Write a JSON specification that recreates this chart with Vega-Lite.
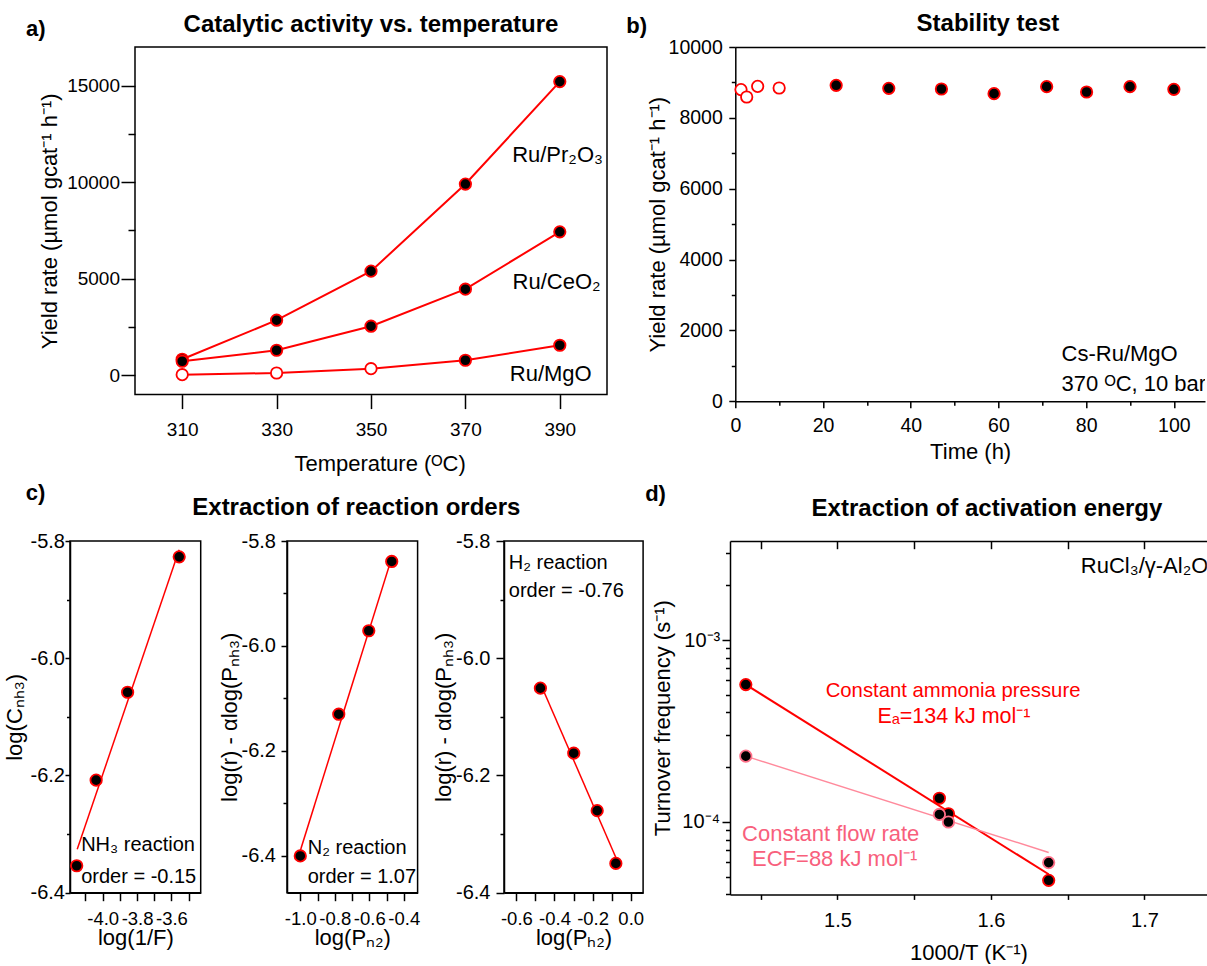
{
  "$schema": "https://vega.github.io/schema/vega-lite/v6.json",
  "background": "white",
  "padding": {"left": 2, "top": 11, "right": 0, "bottom": 0},
  "config": {
    "font": "Liberation Sans",
    "view": {"stroke": "black", "strokeWidth": 1.5},
    "axis": {
      "domainColor": "black", "domainWidth": 1.5, "tickColor": "black", "tickWidth": 1.5,
      "labelColor": "black", "titleColor": "black", "labelFontSize": 20, "titleFontSize": 22,
      "titleFontWeight": "normal", "grid": false, "labelFlush": false, "labelOverlap": false
    },
    "text": {"color": "black"}
  },
  "datasets": {
    "a": [
      {"catalyst": "Ru/Pr2O3", "T": 310, "rate": 830, "marker": "filled"},
      {"catalyst": "Ru/Pr2O3", "T": 330, "rate": 2852, "marker": "filled"},
      {"catalyst": "Ru/Pr2O3", "T": 350, "rate": 5392, "marker": "filled"},
      {"catalyst": "Ru/Pr2O3", "T": 370, "rate": 9903, "marker": "filled"},
      {"catalyst": "Ru/Pr2O3", "T": 390, "rate": 15207, "marker": "filled"},
      {"catalyst": "Ru/CeO2", "T": 310, "rate": 726, "marker": "filled"},
      {"catalyst": "Ru/CeO2", "T": 330, "rate": 1296, "marker": "filled"},
      {"catalyst": "Ru/CeO2", "T": 350, "rate": 2541, "marker": "filled"},
      {"catalyst": "Ru/CeO2", "T": 370, "rate": 4459, "marker": "filled"},
      {"catalyst": "Ru/CeO2", "T": 390, "rate": 7430, "marker": "filled"},
      {"catalyst": "Ru/MgO", "T": 310, "rate": 31, "marker": "open"},
      {"catalyst": "Ru/MgO", "T": 330, "rate": 119, "marker": "open"},
      {"catalyst": "Ru/MgO", "T": 350, "rate": 342, "marker": "open"},
      {"catalyst": "Ru/MgO", "T": 370, "rate": 778, "marker": "filled"},
      {"catalyst": "Ru/MgO", "T": 390, "rate": 1555, "marker": "filled"}
    ],
    "b": [
      {"t": 1.3, "rate": 8798, "marker": "open"},
      {"t": 2.6, "rate": 8589, "marker": "open"},
      {"t": 5.1, "rate": 8890, "marker": "open"},
      {"t": 10.0, "rate": 8843, "marker": "open"},
      {"t": 23, "rate": 8919, "marker": "filled"},
      {"t": 35, "rate": 8834, "marker": "filled"},
      {"t": 47, "rate": 8815, "marker": "filled"},
      {"t": 59, "rate": 8684, "marker": "filled"},
      {"t": 71, "rate": 8881, "marker": "filled"},
      {"t": 80.1, "rate": 8730, "marker": "filled"},
      {"t": 90, "rate": 8881, "marker": "filled"},
      {"t": 100, "rate": 8806, "marker": "filled"}
    ],
    "c1": [
      {"x": -4.151, "y": -6.354}, {"x": -4.038, "y": -6.208},
      {"x": -3.855, "y": -6.058}, {"x": -3.555, "y": -5.827}
    ],
    "c1fit": [{"x": -4.148, "y": -6.326}, {"x": -3.555, "y": -5.815}],
    "c2": [
      {"x": -1.0, "y": -6.40}, {"x": -0.777, "y": -6.130},
      {"x": -0.603, "y": -5.971}, {"x": -0.470, "y": -5.839}
    ],
    "c2fit": [{"x": -1.0, "y": -6.39}, {"x": -0.47, "y": -5.832}],
    "c3": [
      {"x": -0.474, "y": -6.051}, {"x": -0.299, "y": -6.162},
      {"x": -0.176, "y": -6.260}, {"x": -0.078, "y": -6.350}
    ],
    "c3fit": [{"x": -0.474, "y": -6.043}, {"x": -0.078, "y": -6.340}],
    "d": [
      {"series": "ammonia", "x": 1.4403, "tof": 0.000569},
      {"series": "ammonia", "x": 1.5664, "tof": 0.000135},
      {"series": "ammonia", "x": 1.5723, "tof": 0.000111},
      {"series": "ammonia", "x": 1.6376, "tof": 0.0000478},
      {"series": "flow", "x": 1.4403, "tof": 0.00023},
      {"series": "flow", "x": 1.5664, "tof": 0.00011},
      {"series": "flow", "x": 1.5723, "tof": 0.0001},
      {"series": "flow", "x": 1.6376, "tof": 0.0000598}
    ],
    "dfit": [
      {"series": "ammonia", "x": 1.4403, "tof": 0.000569},
      {"series": "ammonia", "x": 1.6376, "tof": 0.0000516},
      {"series": "flow", "x": 1.4403, "tof": 0.00023},
      {"series": "flow", "x": 1.6376, "tof": 0.000068}
    ]
  },
  "spacing": 6,
  "vconcat": [
    {
      "hconcat": [
        {
          "width": 537, "height": 347.6,
          "view": {"stroke": null},
          "resolve": {"axis": {"x": "independent", "y": "independent"}},
          "layer": [
            {
              "data": {"values": [{"x": 300, "x2": 400, "y": -1000, "y2": 17000}]},
              "mark": {"type": "rect", "fill": "transparent", "stroke": "black", "strokeWidth": 1.5},
              "encoding": {
                "x": {"field": "x", "type": "quantitative", "axis": null}, "x2": {"field": "x2"},
                "y": {"field": "y", "type": "quantitative", "axis": null}, "y2": {"field": "y2"}
              }
            },
            {
              "data": {"name": "a"},
              "mark": {"type": "line", "color": "#ff0000", "strokeWidth": 2},
              "encoding": {
                "x": {"field": "T", "type": "quantitative",
                  "scale": {"domain": [286.229, 400], "nice": false, "zero": false},
                  "axis": {"orient": "bottom", "domain": false, "values": [310, 330, 350, 370, 390], "labelFontSize": 19,
                    "tickSize": 14, "labelPadding": 12, "title": "Temperature (ᴼC)", "titlePadding": 14, "titleX": 309.6}},
                "y": {"field": "rate", "type": "quantitative",
                  "scale": {"domain": [-1000, 17000], "nice": false, "zero": false},
                  "axis": {"offset": -65, "domain": false, "values": [0, 2500, 5000, 7500, 10000, 12500, 15000], "format": "d", "labelFontSize": 19,
                    "labelExpr": "datum.value % 5000 === 0 ? datum.label : ''",
                    "tickSize": {"condition": {"test": "datum.value % 5000 === 0", "value": 14}, "value": 7},
                    "labelPadding": 1.5, "title": "Yield rate (µmol gcat⁻¹ h⁻¹)", "titlePadding": 5}},
                "detail": {"field": "catalyst"}
              }
            },
            {
              "data": {"name": "a"},
              "mark": {"type": "point", "shape": "circle", "filled": true, "stroke": "#ff0000", "strokeWidth": 1.8, "size": 130, "opacity": 1},
              "encoding": {
                "x": {"field": "T", "type": "quantitative", "axis": null},
                "y": {"field": "rate", "type": "quantitative", "axis": null},
                "fill": {"field": "marker", "type": "nominal", "scale": {"domain": ["filled", "open"], "range": ["black", "white"]}, "legend": null}
              }
            },
            {
              "data": {"values": [{"label": "Catalytic activity vs. temperature", "x": 350, "y": 18160}]},
              "mark": {"type": "text", "fontSize": 24, "fontWeight": "bold", "align": "center", "baseline": "middle"},
              "encoding": {"x": {"field": "x", "type": "quantitative", "axis": null}, "y": {"field": "y", "type": "quantitative", "axis": null}, "text": {"field": "label"}}
            },
            {
              "data": {"values": [{"label": "a)", "x": 281.06, "y": 17953}]},
              "mark": {"type": "text", "fontSize": 22, "fontWeight": "bold", "align": "right", "baseline": "middle"},
              "encoding": {"x": {"field": "x", "type": "quantitative", "axis": null}, "y": {"field": "y", "type": "quantitative", "axis": null}, "text": {"field": "label"}}
            },
            {
              "data": {"values": [
                {"label": "Ru/Pr₂O₃", "x": 379.9, "y": 11420},
                {"label": "Ru/CeO₂", "x": 380, "y": 4840},
                {"label": "Ru/MgO", "x": 379.4, "y": 70}
              ]},
              "mark": {"type": "text", "fontSize": 22, "align": "left", "baseline": "middle"},
              "encoding": {"x": {"field": "x", "type": "quantitative", "axis": null}, "y": {"field": "y", "type": "quantitative", "axis": null}, "text": {"field": "label"}}
            }
          ]
        },
        {
          "width": 469.7, "height": 354.3,
          "view": {"stroke": null},
          "resolve": {"axis": {"x": "independent", "y": "independent"}},
          "layer": [
            {
              "data": {"name": "b"},
              "mark": {"type": "point", "shape": "circle", "filled": true, "stroke": "#ff0000", "strokeWidth": 1.8, "size": 130, "opacity": 1},
              "encoding": {
                "x": {"field": "t", "type": "quantitative",
                  "scale": {"domain": [0, 107.1], "nice": false, "zero": false},
                  "axis": {"orient": "bottom", "values": [0, 10, 20, 30, 40, 50, 60, 70, 80, 90, 100], "labelFontSize": 19.5,
                    "labelExpr": "datum.value % 20 === 0 ? datum.label : ''",
                    "tickSize": {"condition": {"test": "datum.value % 20 === 0", "value": 6.5}, "value": 4},
                    "labelPadding": 9, "title": "Time (h)", "titlePadding": 6}},
                "y": {"field": "rate", "type": "quantitative",
                  "scale": {"domain": [0, 10000], "nice": false, "zero": false},
                  "axis": {"values": [0, 1000, 2000, 3000, 4000, 5000, 6000, 7000, 8000, 9000, 10000], "format": "d", "labelFontSize": 19.5,
                    "labelExpr": "datum.value % 2000 === 0 ? datum.label : ''",
                    "tickSize": {"condition": {"test": "datum.value % 2000 === 0", "value": 6.5}, "value": 4},
                    "labelPadding": 6.5, "title": "Yield rate (µmol gcat⁻¹ h⁻¹)", "titlePadding": -1}},
                "fill": {"field": "marker", "type": "nominal", "scale": {"domain": ["filled", "open"], "range": ["black", "white"]}, "legend": null}
              }
            },
            {
              "data": {"values": [{"label": "Stability test", "x": 57.6, "y": 10655}]},
              "mark": {"type": "text", "fontSize": 24, "fontWeight": "bold", "align": "center", "baseline": "middle"},
              "encoding": {
                "x": {"field": "x", "type": "quantitative", "axis": {"orient": "top", "ticks": false, "labels": false, "title": null, "domain": true}},
                "y": {"field": "y", "type": "quantitative", "axis": null}, "text": {"field": "label"}}
            },
            {
              "data": {"values": [{"label": "b)", "x": -22.5, "y": 10584}]},
              "mark": {"type": "text", "fontSize": 22, "fontWeight": "bold", "align": "center", "baseline": "middle"},
              "encoding": {"x": {"field": "x", "type": "quantitative", "axis": null}, "y": {"field": "y", "type": "quantitative", "axis": null}, "text": {"field": "label"}}
            },
            {
              "data": {"values": [
                {"label": "Cs-Ru/MgO", "x": 74.4, "y": 1335},
                {"label": "370 ᴼC, 10 bar", "x": 74.4, "y": 488}
              ]},
              "mark": {"type": "text", "fontSize": 22, "align": "left", "baseline": "middle", "clip": true},
              "encoding": {"x": {"field": "x", "type": "quantitative", "axis": null}, "y": {"field": "y", "type": "quantitative", "axis": null}, "text": {"field": "label"}}
            }
          ]
        }
      ],
      "spacing": 128.3,
      "bounds": "flush"
    },
    {
      "hconcat": [
        {
          "width": 130.7, "height": 351.7,
          "resolve": {"axis": {"x": "independent", "y": "independent"}},
          "layer": [
            {
              "data": {"name": "c1fit"},
              "mark": {"type": "line", "color": "#ff0000", "strokeWidth": 1.5},
              "encoding": {
                "x": {"field": "x", "type": "quantitative",
                  "scale": {"domain": [-4.19, -3.43], "nice": false, "zero": false},
                  "axis": {"values": [-4.1, -4.0, -3.9, -3.8, -3.7, -3.6, -3.5], "labelFontSize": 18.5,
                    "labelExpr": "abs(round(datum.value*10)) % 2 === 0 ? (datum.value < 0 ? '-' : '') + format(abs(datum.value), '.1f') : ''",
                    "tickSize": 8, "labelPadding": 8.4, "title": "log(1/F)", "titlePadding": 0}},
                "y": {"field": "y", "type": "quantitative",
                  "scale": {"domain": [-6.4, -5.8], "nice": false, "zero": false},
                  "axis": {"values": [-6.4, -6.3, -6.2, -6.1, -6.0, -5.9, -5.8],
                    "labelExpr": "abs(round(datum.value*10)) % 2 === 0 ? (datum.value < 0 ? '-' : '') + format(abs(datum.value), '.1f') : ''",
                    "tickSize": {"condition": {"test": "abs(round(datum.value*10)) % 2 === 0", "value": 5}, "value": 3.5},
                    "labelPadding": 0.5, "title": "log(Cₙₕ₃)", "titlePadding": 4}}
              }
            },
            {
              "data": {"name": "c1"},
              "mark": {"type": "point", "shape": "circle", "filled": true, "fill": "black", "stroke": "#ff0000", "strokeWidth": 1.8, "size": 130, "opacity": 1},
              "encoding": {"x": {"field": "x", "type": "quantitative", "axis": null}, "y": {"field": "y", "type": "quantitative", "axis": null}}
            },
            {
              "data": {"values": [{"label": "c)", "x": -4.391, "y": -5.718}]},
              "mark": {"type": "text", "fontSize": 22, "fontWeight": "bold", "align": "center", "baseline": "middle"},
              "encoding": {"x": {"field": "x", "type": "quantitative", "axis": null}, "y": {"field": "y", "type": "quantitative", "axis": null}, "text": {"field": "label"}}
            },
            {
              "data": {"values": [
                {"label": "NH₃ reaction", "x": -4.125, "y": -6.319},
                {"label": "order = -0.15", "x": -4.125, "y": -6.373}
              ]},
              "mark": {"type": "text", "fontSize": 20, "align": "left", "baseline": "middle"},
              "encoding": {"x": {"field": "x", "type": "quantitative", "axis": null}, "y": {"field": "y", "type": "quantitative", "axis": null}, "text": {"field": "label"}}
            }
          ]
        },
        {
          "width": 130.6, "height": 351.7,
          "resolve": {"axis": {"x": "independent", "y": "independent"}},
          "layer": [
            {
              "data": {"name": "c2fit"},
              "mark": {"type": "line", "color": "#ff0000", "strokeWidth": 1.5},
              "encoding": {
                "x": {"field": "x", "type": "quantitative",
                  "scale": {"domain": [-1.077, -0.32], "nice": false, "zero": false},
                  "axis": {"values": [-1.0, -0.9, -0.8, -0.7, -0.6, -0.5, -0.4], "labelFontSize": 18.5,
                    "labelExpr": "abs(round(datum.value*10)) % 2 === 0 ? (datum.value < 0 ? '-' : '') + format(abs(datum.value), '.1f') : ''",
                    "tickSize": 8, "labelPadding": 8.4, "title": "log(Pₙ₂)", "titlePadding": 0}},
                "y": {"field": "y", "type": "quantitative",
                  "scale": {"domain": [-6.47, -5.8], "nice": false, "zero": false},
                  "axis": {"values": [-6.4, -6.3, -6.2, -6.1, -6.0, -5.9, -5.8],
                    "labelExpr": "abs(round(datum.value*10)) % 2 === 0 ? (datum.value < 0 ? '-' : '') + format(abs(datum.value), '.1f') : ''",
                    "tickSize": {"condition": {"test": "abs(round(datum.value*10)) % 2 === 0", "value": 6}, "value": 4},
                    "labelPadding": 5.5, "title": "log(r) - αlog(Pₙₕ₃)", "titlePadding": 0}}
              }
            },
            {
              "data": {"name": "c2"},
              "mark": {"type": "point", "shape": "circle", "filled": true, "fill": "black", "stroke": "#ff0000", "strokeWidth": 1.8, "size": 130, "opacity": 1},
              "encoding": {"x": {"field": "x", "type": "quantitative", "axis": null}, "y": {"field": "y", "type": "quantitative", "axis": null}}
            },
            {
              "data": {"values": [{"label": "Extraction of reaction orders", "x": -0.6753, "y": -5.7377}]},
              "mark": {"type": "text", "fontSize": 24, "fontWeight": "bold", "align": "center", "baseline": "middle"},
              "encoding": {"x": {"field": "x", "type": "quantitative", "axis": null}, "y": {"field": "y", "type": "quantitative", "axis": null}, "text": {"field": "label"}}
            },
            {
              "data": {"values": [
                {"label": "N₂ reaction", "x": -0.957, "y": -6.384},
                {"label": "order = 1.07", "x": -0.957, "y": -6.441}
              ]},
              "mark": {"type": "text", "fontSize": 20, "align": "left", "baseline": "middle"},
              "encoding": {"x": {"field": "x", "type": "quantitative", "axis": null}, "y": {"field": "y", "type": "quantitative", "axis": null}, "text": {"field": "label"}}
            }
          ]
        },
        {
          "width": 139.1, "height": 351.7,
          "resolve": {"axis": {"x": "independent", "y": "independent"}},
          "layer": [
            {
              "data": {"name": "c3fit"},
              "mark": {"type": "line", "color": "#ff0000", "strokeWidth": 1.5},
              "encoding": {
                "x": {"field": "x", "type": "quantitative",
                  "scale": {"domain": [-0.665, 0.065], "nice": false, "zero": false},
                  "axis": {"values": [-0.6, -0.5, -0.4, -0.3, -0.2, -0.1, 0], "labelFontSize": 18.5,
                    "labelExpr": "abs(round(datum.value*10)) % 2 === 0 ? (datum.value < 0 ? '-' : '') + format(abs(datum.value), '.1f') : ''",
                    "tickSize": 8, "labelPadding": 8.4, "title": "log(Pₕ₂)", "titlePadding": 0}},
                "y": {"field": "y", "type": "quantitative",
                  "scale": {"domain": [-6.4, -5.8], "nice": false, "zero": false},
                  "axis": {"values": [-6.4, -6.3, -6.2, -6.1, -6.0, -5.9, -5.8],
                    "labelExpr": "abs(round(datum.value*10)) % 2 === 0 ? (datum.value < 0 ? '-' : '') + format(abs(datum.value), '.1f') : ''",
                    "tickSize": {"condition": {"test": "abs(round(datum.value*10)) % 2 === 0", "value": 8}, "value": 4},
                    "labelPadding": 6, "title": "log(r) - αlog(Pₙₕ₃)", "titlePadding": 0}}
              }
            },
            {
              "data": {"name": "c3"},
              "mark": {"type": "point", "shape": "circle", "filled": true, "fill": "black", "stroke": "#ff0000", "strokeWidth": 1.8, "size": 130, "opacity": 1},
              "encoding": {"x": {"field": "x", "type": "quantitative", "axis": null}, "y": {"field": "y", "type": "quantitative", "axis": null}}
            },
            {
              "data": {"values": [
                {"label": "H₂ reaction", "x": -0.640, "y": -5.837},
                {"label": "order = -0.76", "x": -0.640, "y": -5.885}
              ]},
              "mark": {"type": "text", "fontSize": 20, "align": "left", "baseline": "middle"},
              "encoding": {"x": {"field": "x", "type": "quantitative", "axis": null}, "y": {"field": "y", "type": "quantitative", "axis": null}, "text": {"field": "label"}}
            }
          ]
        },
        {
          "width": 476.8, "height": 353.4,
          "view": {"stroke": null},
          "resolve": {"axis": {"x": "independent", "y": "independent"}},
          "layer": [
            {
              "data": {"name": "dfit"},
              "transform": [{"filter": "datum.series === 'ammonia'"}],
              "mark": {"type": "line", "color": "#ff0000", "strokeWidth": 2},
              "encoding": {
                "x": {"field": "x", "type": "quantitative",
                  "scale": {"domain": [1.43, 1.7406], "nice": false, "zero": false},
                  "axis": {"orient": "bottom", "values": [1.45, 1.5, 1.55, 1.6, 1.65, 1.7],
                    "labelExpr": "(datum.value === 1.5 || datum.value === 1.6 || datum.value === 1.7) ? format(datum.value, '.1f') : ''",
                    "tickSize": 5, "labelPadding": 10.7, "title": "1000/T (K⁻¹)", "titlePadding": 12.4}},
                "y": {"field": "tof", "type": "quantitative",
                  "scale": {"type": "log", "domain": [0.00004, 0.0035], "nice": false, "zero": false},
                  "axis": {"values": [0.00004, 0.00005, 0.00006, 0.00007, 0.00008, 0.00009, 0.0001, 0.0002, 0.0003, 0.0004, 0.0005, 0.0006, 0.0007, 0.0008, 0.0009, 0.001, 0.002, 0.003],
                    "labelExpr": "datum.value === 0.001 ? '10⁻³' : (datum.value === 0.0001 ? '10⁻⁴' : '')",
                    "tickSize": {"condition": {"test": "datum.value === 0.001 || datum.value === 0.0001", "value": 8}, "value": 4.5},
                    "labelPadding": 2.3, "title": "Turnover frequency (s⁻¹)", "titlePadding": 7}}
              }
            },
            {
              "data": {"name": "dfit"},
              "transform": [{"filter": "datum.series === 'flow'"}],
              "mark": {"type": "line", "color": "#ff8a9c", "strokeWidth": 1.5},
              "encoding": {
                "x": {"field": "x", "type": "quantitative", "axis": {"orient": "top", "values": [1.45, 1.5, 1.55, 1.6, 1.65, 1.7], "labels": false, "tickSize": -7.7, "title": null, "domain": true}},
                "y": {"field": "tof", "type": "quantitative", "axis": null}
              }
            },
            {
              "data": {"name": "d"},
              "mark": {"type": "point", "shape": "circle", "filled": true, "fill": "black", "strokeWidth": 1.8, "size": 130, "opacity": 1},
              "encoding": {
                "x": {"field": "x", "type": "quantitative", "axis": null},
                "y": {"field": "tof", "type": "quantitative", "axis": null},
                "stroke": {"field": "series", "type": "nominal", "scale": {"domain": ["ammonia", "flow"], "range": ["#ff0000", "#ff6f88"]}, "legend": null}
              }
            },
            {
              "data": {"values": [
                {"label": "Extraction of activation energy", "x": 1.5974, "y": 0.00526}
              ]},
              "mark": {"type": "text", "fontSize": 24, "fontWeight": "bold", "align": "center", "baseline": "middle"},
              "encoding": {"x": {"field": "x", "type": "quantitative", "axis": null}, "y": {"field": "y", "type": "quantitative", "axis": null}, "text": {"field": "label"}}
            },
            {
              "data": {"values": [{"label": "d)", "x": 1.3815, "y": 0.00636}]},
              "mark": {"type": "text", "fontSize": 22, "fontWeight": "bold", "align": "center", "baseline": "middle"},
              "encoding": {"x": {"field": "x", "type": "quantitative", "axis": null}, "y": {"field": "y", "type": "quantitative", "axis": null}, "text": {"field": "label"}}
            },
            {
              "data": {"values": [
                {"label": "Constant ammonia pressure", "x": 1.5753, "y": 0.000523}
              ]},
              "mark": {"type": "text", "fontSize": 20.3, "align": "center", "baseline": "middle", "color": "#ff0000"},
              "encoding": {"x": {"field": "x", "type": "quantitative", "axis": null}, "y": {"field": "y", "type": "quantitative", "axis": null}, "text": {"field": "label"}}
            },
            {
              "data": {"values": [
                {"label": "Eₐ=134 kJ mol⁻¹", "x": 1.5759, "y": 0.000377}
              ]},
              "mark": {"type": "text", "fontSize": 21.5, "align": "center", "baseline": "middle", "color": "#ff0000"},
              "encoding": {"x": {"field": "x", "type": "quantitative", "axis": null}, "y": {"field": "y", "type": "quantitative", "axis": null}, "text": {"field": "label"}}
            },
            {
              "data": {"values": [
                {"label": "Constant flow rate", "x": 1.4956, "y": 0.0000863},
                {"label": "ECF=88 kJ mol⁻¹", "x": 1.4982, "y": 0.0000629}
              ]},
              "mark": {"type": "text", "fontSize": 22, "align": "center", "baseline": "middle", "color": "#f8607c"},
              "encoding": {"x": {"field": "x", "type": "quantitative", "axis": null}, "y": {"field": "y", "type": "quantitative", "axis": null}, "text": {"field": "label"}}
            },
            {
              "data": {"values": [{"label": "RuCl₃/γ-Al₂O₃", "x": 1.6585, "y": 0.00254}]},
              "mark": {"type": "text", "fontSize": 22, "align": "left", "baseline": "middle", "clip": true},
              "encoding": {"x": {"field": "x", "type": "quantitative", "axis": null}, "y": {"field": "y", "type": "quantitative", "axis": null}, "text": {"field": "label"}}
            }
          ]
        }
      ],
      "spacing": 86,
      "bounds": "flush"
    }
  ]
}
